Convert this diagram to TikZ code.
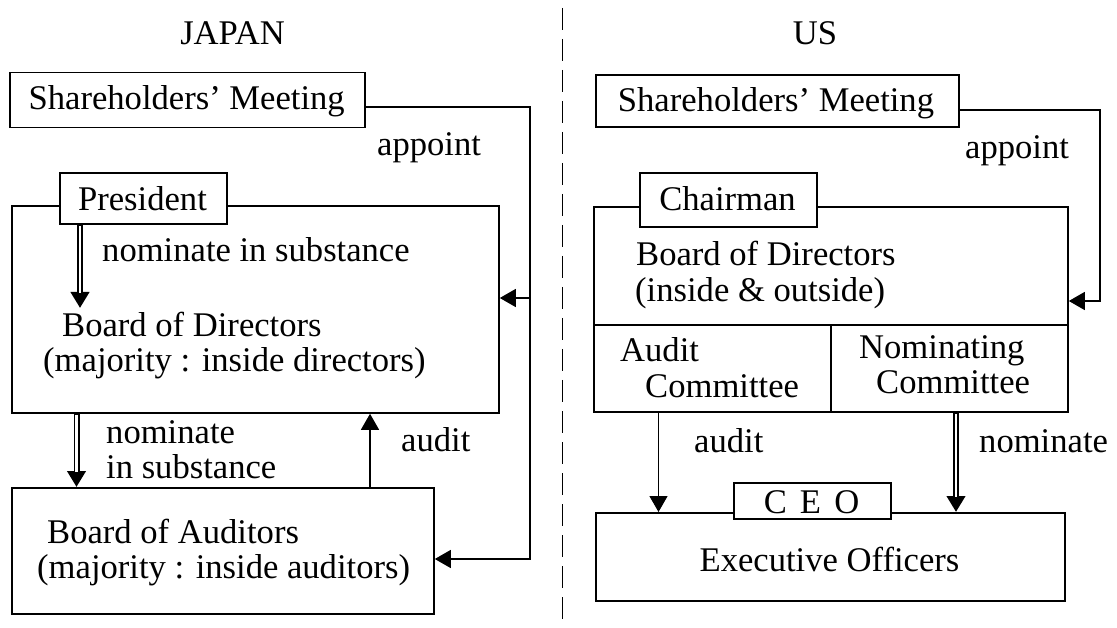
\documentclass[tikz,border=0pt]{standalone}
\usepackage{fontspec}
\setmainfont{Liberation Serif}
\usetikzlibrary{arrows.meta}
\newcommand\dfont{\fontsize{34.6}{40}\selectfont}
\begin{document}
\begin{tikzpicture}[x=1pt,y=-1pt,
  frame/.style={draw, line width=1.8pt, fill=white, inner sep=0pt, anchor=north west},
  lbl/.style={anchor=base west, inner sep=0pt, font=\dfont},
  clbl/.style={anchor=base, inner sep=0pt, font=\dfont},
  link/.style={line width=1.3pt},
  tip/.style={-{Triangle[length=16pt,width=18pt]}},
  arr/.style={link, tip},
  dblarr/.style={line width=6pt, tip,
    postaction={draw=white, line width=2.8pt, -, shorten <=1.2pt, shorten >=15pt}},
  divider/.style={line width=1pt, dash pattern=on 22pt off 9pt},
]
\fill[white] (0,0) rectangle (1117,628);
\useasboundingbox (0,0) rectangle (1117,628);

% headings and the dividing line
\node[clbl] (tjp) at (232.5,45) {JAPAN};
\node[clbl] (tus) at (815,45) {US};
\coordinate (dtop) at (562,8);
\coordinate (dbot) at (562,628);
\draw[divider] (dtop) -- (dbot);

% ---------------- Japan ----------------
\node[frame, minimum width=354.7, minimum height=55] (jsh) at (9.3,71.7) {};
\node[clbl] (jshT) at (186.7,110) {Shareholders’ Meeting};
\node[lbl] (japp) at (377,156) {appoint};

\node[frame, minimum width=487, minimum height=207] (jbd) at (11,205) {};
\node[frame, minimum width=167, minimum height=51] (jpres) at (59,172) {};
\node[clbl] (jpresT) at (142.5,211) {President};
\node[lbl] (jnomA) at (102,262) {nominate in substance};
\node[lbl] (jbdT1) at (62,337) {Board of Directors};
\node[lbl] (jbdT2) at (43,372) {(majority : inside directors)};

\node[lbl] (jnomB1) at (106,443) {nominate};
\node[lbl] (jnomB2) at (106,478) {in substance};
\node[lbl] (jaudit) at (401,451) {audit};

\node[frame, minimum width=422, minimum height=126] (jaud) at (11,487) {};
\node[lbl] (jaudT1) at (47,543) {Board of Auditors};
\node[lbl] (jaudT2) at (37,578) {(majority : inside auditors)};

\coordinate (jtop) at (530,107);
\coordinate (jmid) at (530,298);
\coordinate (jbot) at (530,559);
\draw[arr] (jsh.east |- jtop) -- (jtop) -- (jbot) -- (jbot -| jaud.east);
\draw[arr] (jmid) -- (jmid -| jbd.east);

\coordinate (jn1) at (80,308);
\draw[dblarr] (jn1 |- jpres.south) -- (jn1);
\coordinate (jn2) at (76.5,450);
\draw[dblarr] (jn2 |- jbd.south) -- (jn2 |- jaud.north);
\coordinate (ja) at (370,450);
\draw[arr] (ja |- jaud.north) -- (ja |- jbd.south);

% ---------------- US ----------------
\node[frame, minimum width=363, minimum height=52] (ush) at (595,74) {};
\node[clbl] (ushT) at (776,112) {Shareholders’ Meeting};
\node[lbl] (uapp) at (965,159) {appoint};

\node[frame, minimum width=474, minimum height=118] (ubd) at (593,206) {};
\node[frame, minimum width=237, minimum height=87] (uac) at (593,324) {};
\node[frame, minimum width=237, minimum height=87] (unc) at (830,324) {};
\node[frame, minimum width=177, minimum height=54] (uch) at (639,172) {};
\node[clbl] (uchT) at (727.5,211) {Chairman};
\node[lbl] (ubdT1) at (636,266) {Board of Directors};
\node[lbl] (ubdT2) at (635,302) {(inside \& outside)};
\node[lbl] (uacT1) at (620,362) {Audit};
\node[lbl] (uacT2) at (645,397) {Committee};
\node[lbl] (uncT1) at (859,359) {Nominating};
\node[lbl] (uncT2) at (876,393) {Committee};

\node[lbl] (uaudit) at (694,452) {audit};
\node[lbl] (unom) at (979,452) {nominate};

\node[frame, minimum width=469, minimum height=88] (uex) at (595,512) {};
\node[frame, minimum width=157, minimum height=36] (uceo) at (733,482) {};
\node[clbl] (uceoT) at (811.5,513) {C\hspace{0.38em}E\hspace{0.38em}O};
\node[clbl] (uexT) at (829.5,571) {Executive Officers};

\coordinate (utop) at (1100,110);
\coordinate (umid) at (1100,301);
\draw[arr] (ush.east |- utop) -- (utop) -- (umid) -- (umid -| ubd.east);
\coordinate (ua) at (658.5,460);
\draw[arr] (ua |- uac.south) -- (ua |- uex.north);
\coordinate (un) at (956,460);
\draw[dblarr] (un |- unc.south) -- (un |- uex.north);
\end{tikzpicture}
\end{document}
